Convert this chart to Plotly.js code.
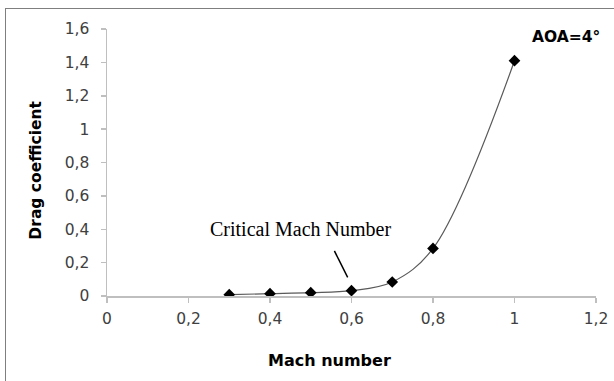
<!DOCTYPE html>
<html>
<head>
<meta charset="utf-8">
<script src="https://cdn.plot.ly/plotly-3.0.1.min.js"></script>
<style>
  html, body { margin: 0; padding: 0; background: #fff; }
  #wrap { position: relative; width: 614px; height: 381px; overflow: hidden; }
  #chart { width: 614px; height: 381px; }
  #frame { position: absolute; left: 5px; top: 8px; width: 800px; height: 600px;
           border-left: 1px solid #7f7f7f; border-top: 1px solid #7f7f7f; pointer-events: none; }
</style>
</head>
<body>
<div id="wrap">
  <div id="chart"></div>
  <div id="frame"></div>
</div>
<script>
// Data
const machNumbers = [0.3, 0.4, 0.5, 0.6, 0.7, 0.8, 1.0];
const dragCoefficients = [0.008, 0.014, 0.02, 0.032, 0.084, 0.285, 1.41];

const xAxisTitle = "Mach number";
const yAxisTitle = "Drag coefficient";
const aoaLabel = "AOA=4°";
const criticalLabel = "Critical Mach Number";

const axisGray = "#bfbfbf";
const tickFont = { family: "DejaVu Sans", size: 15.5, color: "#404040" };
const titleFont = { family: "DejaVu Sans", size: 15.5, color: "#000" };

const trace = {
  x: machNumbers,
  y: dragCoefficients,
  type: "scatter",
  mode: "lines+markers",
  line: { shape: "spline", smoothing: 1, color: "#595959", width: 1.2 },
  marker: { symbol: "diamond", size: 9, color: "#000000" },
  showlegend: false,
  hoverinfo: "skip"
};

const axisCommon = {
  dtick: 0.2,
  tick0: 0,
  showgrid: false,
  zeroline: false,
  showline: true,
  linecolor: axisGray,
  linewidth: 1.5,
  ticks: "outside",
  ticklen: 5,
  tickcolor: axisGray,
  tickwidth: 1.5,
  tickfont: tickFont
};

const layout = {
  width: 614,
  height: 381,
  margin: { l: 107, r: 18, t: 29, b: 85, pad: 0 },
  paper_bgcolor: "#ffffff",
  plot_bgcolor: "#ffffff",
  separators: ", ",
  showlegend: false,
  xaxis: Object.assign({}, axisCommon, { range: [0, 1.2], ticklabelstandoff: 3 }),
  yaxis: Object.assign({}, axisCommon, { range: [0, 1.6], ticklabelstandoff: 8 }),
  annotations: [
    {
      x: 0.455, y: -0.24, xref: "paper", yref: "paper",
      text: "<b>" + xAxisTitle + "</b>",
      showarrow: false, font: Object.assign({}, titleFont, { size: 16 }),
      xanchor: "center", yanchor: "middle"
    },
    {
      x: -0.147, y: 0.47, xref: "paper", yref: "paper",
      text: "<b>" + yAxisTitle + "</b>",
      showarrow: false, font: titleFont, textangle: -90,
      xanchor: "center", yanchor: "middle"
    },
    {
      x: 1.127, y: 1.554, xref: "x", yref: "y",
      text: "<b>" + aoaLabel + "</b>",
      showarrow: false,
      font: { family: "DejaVu Sans", size: 15.5, color: "#000" },
      xanchor: "center", yanchor: "middle"
    },
    {
      x: 0.475, y: 0.402, xref: "x", yref: "y",
      text: criticalLabel,
      showarrow: false,
      font: { family: "Liberation Serif", size: 20, color: "#000" },
      xanchor: "center", yanchor: "middle"
    }
  ],
  shapes: [
    {
      type: "line", xref: "x", yref: "y",
      x0: 0.558, y0: 0.27, x1: 0.5906, y1: 0.112,
      line: { color: "#000", width: 1.5 }
    }
  ]
};

Plotly.newPlot("chart", [trace], layout, { displayModeBar: false, staticPlot: true });
</script>
</body>
</html>
